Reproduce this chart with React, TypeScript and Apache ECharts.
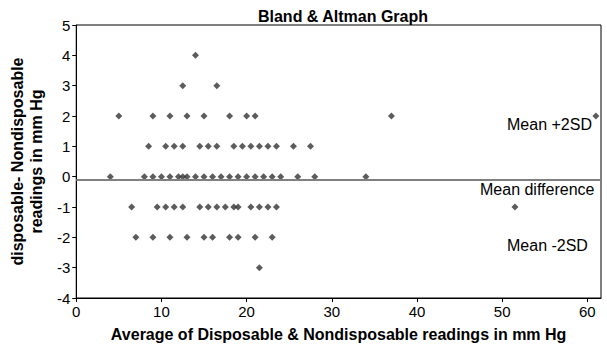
import React, { useEffect, useRef } from "react";
import * as echarts from "echarts";

const chartTitle = "Bland & Altman Graph";
const xAxisTitle = "Average of Disposable & Nondisposable readings in mm Hg";
const yAxisTitle = "disposable- Nondisposable\nreadings in mm Hg";

// difference levels (mm Hg) and the averages observed at each level
const diffLevels = [4, 3, 2, 1, 0, -1, -2, -3];
const averagesAtDiff4 = [14];
const averagesAtDiff3 = [12.5, 16.5];
const averagesAtDiff2 = [5, 9, 11, 13, 15, 18, 20, 21, 37, 61];
const averagesAtDiff1 = [8.5, 10.5, 11.5, 12.5, 14.5, 15.5, 16.5, 18.5, 19.5, 20.5, 21.5, 22.5, 23.5, 25.5, 27.5];
const averagesAtDiff0 = [4, 8, 9, 10, 11, 12, 12.5, 13, 14, 15, 16, 17, 18, 19, 20, 21, 22, 23, 24, 26, 28, 34];
const averagesAtDiffM1 = [6.5, 9.5, 10.5, 11.5, 12.5, 14.5, 15.5, 16.5, 17.5, 18.5, 19, 20.5, 21.5, 22.5, 23.5, 51.5];
const averagesAtDiffM2 = [7, 9, 11, 13, 15, 16, 18, 19, 21, 23];
const averagesAtDiffM3 = [21.5];

const meanDifference = -0.09;
const annotationLabels = ["Mean +2SD", "Mean difference", "Mean -2SD"];

const xTicks = [0, 10, 20, 30, 40, 50, 60];
const yTicks = [-4, -3, -2, -1, 0, 1, 2, 3, 4, 5];

const FONT = "'Liberation Sans', Arial, Helvetica, sans-serif";

export default function App() {
  const ref = useRef<HTMLDivElement>(null);
  useEffect(() => {
    if (!ref.current) return;
    const chart = echarts.init(ref.current, null, { renderer: "svg" });
    const groups = [
      averagesAtDiff4,
      averagesAtDiff3,
      averagesAtDiff2,
      averagesAtDiff1,
      averagesAtDiff0,
      averagesAtDiffM1,
      averagesAtDiffM2,
      averagesAtDiffM3,
    ];
    const points: number[][] = [];
    groups.forEach((g, i) => g.forEach((x) => points.push([x, diffLevels[i]])));

    chart.setOption({
      animation: false,
      backgroundColor: "#ffffff",
      textStyle: { fontFamily: FONT },
      title: {
        text: chartTitle,
        left: 338,
        textAlign: "center",
        top: 3,
        textStyle: { fontFamily: FONT, fontSize: 16, fontWeight: "bold", color: "#000" },
      },
      grid: {
        left: 76,
        right: 6,
        top: 25,
        bottom: 52,
        show: true,
        borderColor: "#000",
        borderWidth: 1,
        backgroundColor: "transparent",
      },
      xAxis: {
        type: "value",
        min: 0,
        max: 61.6,
        interval: 10,
        name: xAxisTitle,
        nameLocation: "middle",
        nameGap: 28,
        nameTextStyle: { fontFamily: FONT, fontSize: 16, fontWeight: "bold", color: "#000" },
        axisLine: { show: true, onZero: false, lineStyle: { color: "#000", width: 1 } },
        axisTick: { show: true, length: 4, lineStyle: { color: "#000" } },
        axisLabel: {
          fontFamily: FONT,
          fontSize: 15,
          color: "#000",
          margin: 6,
          showMaxLabel: false,
          formatter: (v: number) => (xTicks.includes(v) ? String(v) : ""),
        },
        splitLine: { show: false },
      },
      yAxis: {
        type: "value",
        min: -4,
        max: 5,
        interval: 1,
        name: yAxisTitle,
        nameLocation: "middle",
        nameRotate: 90,
        nameGap: 27,
        nameTextStyle: {
          fontFamily: FONT,
          fontSize: 16,
          fontWeight: "bold",
          color: "#000",
          lineHeight: 19,
        },
        axisLine: { show: true, onZero: false, lineStyle: { color: "#000", width: 1 } },
        axisTick: { show: true, length: 4, lineStyle: { color: "#000" } },
        axisLabel: {
          fontFamily: FONT,
          fontSize: 15,
          color: "#000",
          margin: 6,
          formatter: (v: number) => (yTicks.includes(v) ? String(v) : ""),
        },
        splitLine: { show: false },
      },
      series: [
        {
          type: "scatter",
          data: points,
          symbol: "diamond",
          symbolSize: 7,
          itemStyle: { color: "#333333" },
          markLine: {
            silent: true,
            symbol: ["none", "none"],
            label: { show: false },
            lineStyle: { color: "#808080", width: 2, type: "solid" },
            data: [{ yAxis: meanDifference }],
          },
        },
      ],
      graphic: [
        {
          type: "text",
          left: 507,
          top: 116,
          style: { text: annotationLabels[0], font: `16px ${FONT}`, fill: "#000" },
        },
        {
          type: "text",
          left: 480,
          top: 181,
          style: { text: annotationLabels[1], font: `16px ${FONT}`, fill: "#000" },
        },
        {
          type: "text",
          left: 507,
          top: 237,
          style: { text: annotationLabels[2], font: `16px ${FONT}`, fill: "#000" },
        },
      ],
    });
    return () => chart.dispose();
  }, []);
  return (
    <div
      ref={ref}
      style={{ position: "fixed", left: 0, top: 0, width: 607, height: 350 }}
    />
  );
}
